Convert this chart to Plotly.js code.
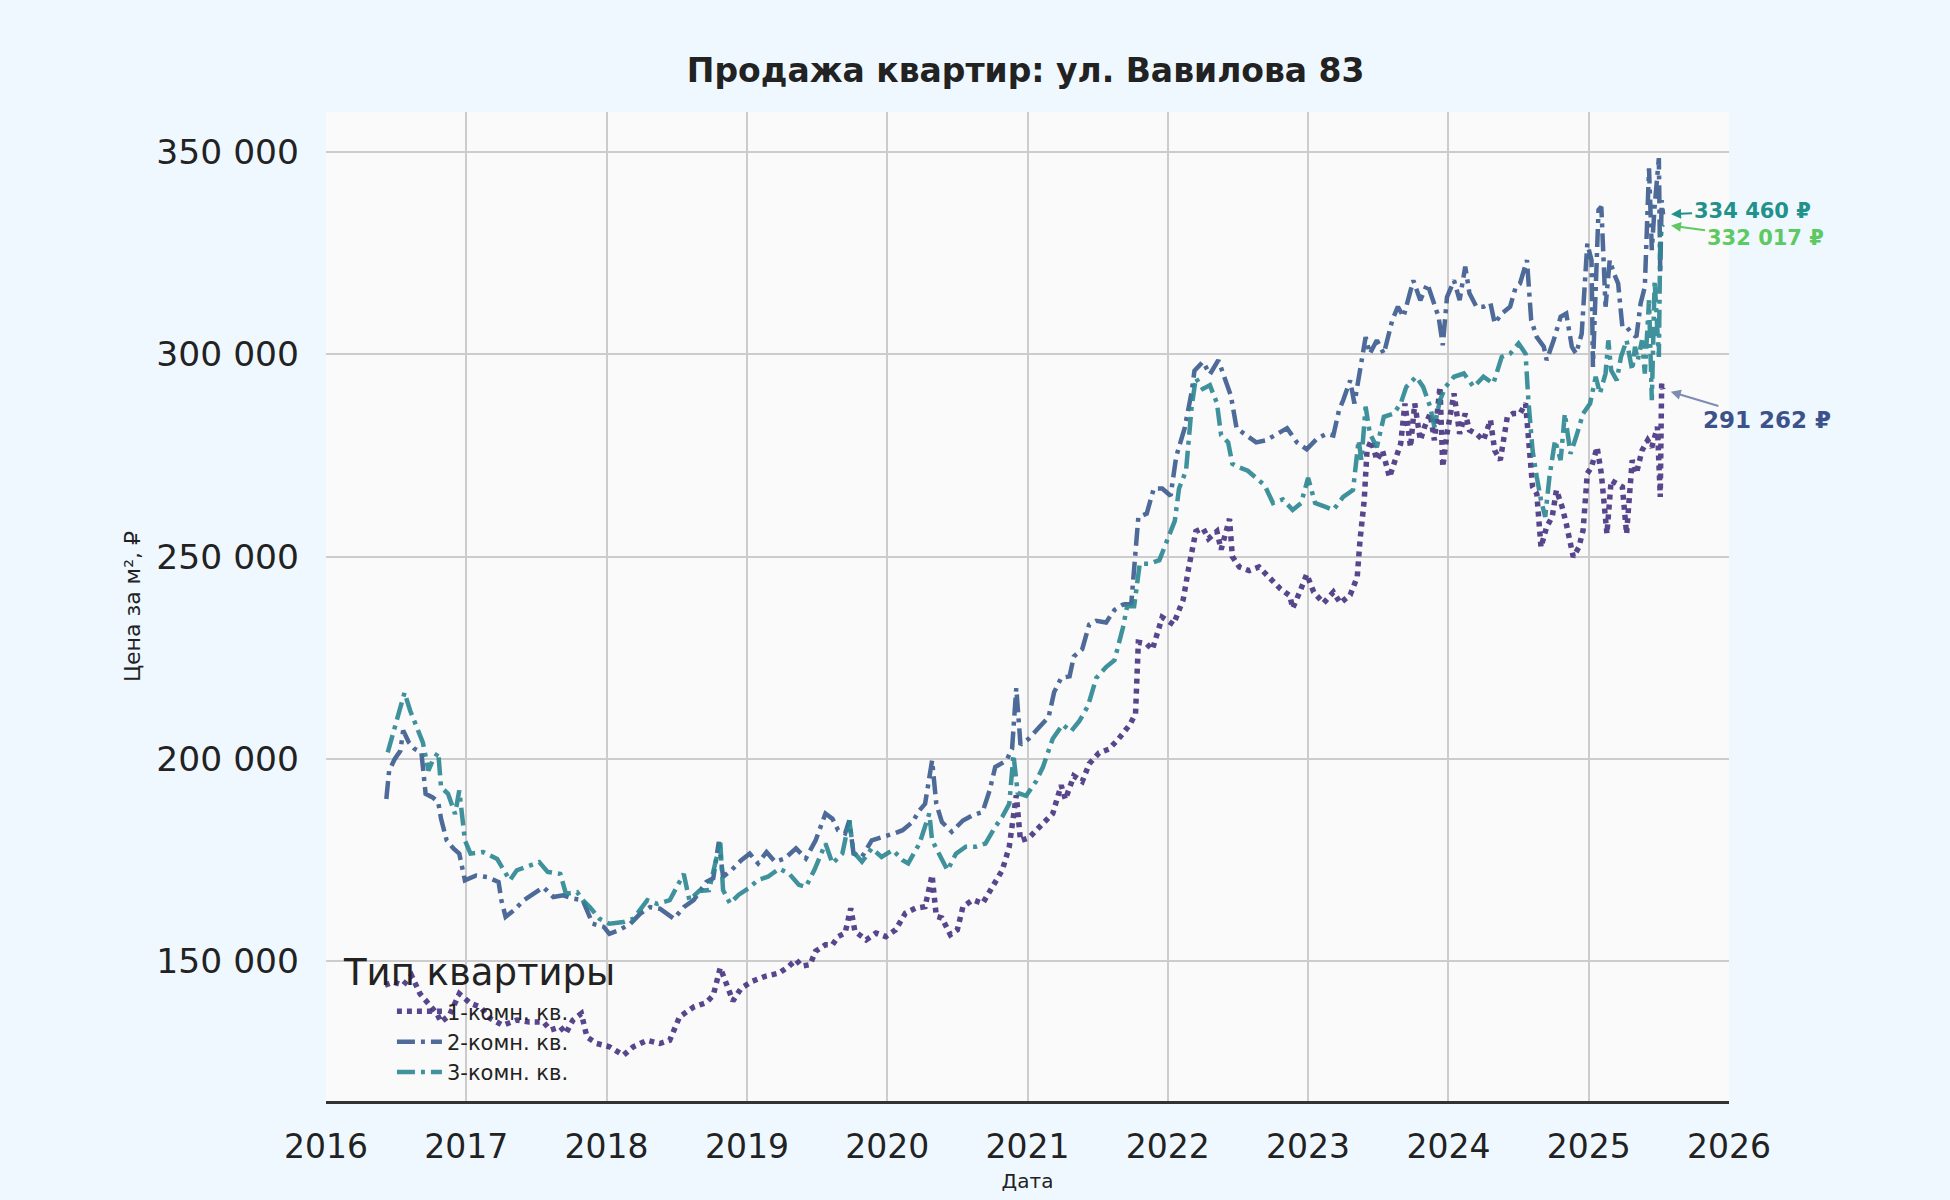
<!DOCTYPE html>
<html>
<head>
<meta charset="utf-8">
<script src="https://cdn.plot.ly/plotly-3.0.1.min.js"></script>
<style>
  html, body { margin: 0; padding: 0; background: #f0f8ff; }
  #chart { width: 1950px; height: 1200px; }
</style>
</head>
<body>
<div id="chart"></div>
<script>
// Продажа квартир: ул. Вавилова 83 — цена за м² по типу квартиры
// x — дата в долях года, y — цена, ₽/м²

const seriesNames = ['1-комн. кв.', '2-комн. кв.', '3-комн. кв.'];

const years1 = [
  2016.42, 2016.48, 2016.55, 2016.61, 2016.67, 2016.73, 2016.79, 2016.82, 2016.88, 2016.95,
  2017.03, 2017.10, 2017.17, 2017.26, 2017.36, 2017.45, 2017.55, 2017.60, 2017.67, 2017.71,
  2017.76, 2017.82, 2017.86, 2017.93, 2018.02, 2018.12, 2018.19, 2018.29, 2018.38, 2018.45,
  2018.52, 2018.62, 2018.71, 2018.76, 2018.81, 2018.86, 2018.90, 2018.96, 2019.04, 2019.13,
  2019.23, 2019.30, 2019.35, 2019.39, 2019.45, 2019.49, 2019.56, 2019.61, 2019.65, 2019.70,
  2019.74, 2019.77, 2019.85, 2019.92, 2019.99, 2020.06, 2020.13, 2020.20, 2020.27, 2020.32,
  2020.35, 2020.39, 2020.45, 2020.50, 2020.54, 2020.61, 2020.68, 2020.75, 2020.82, 2020.87,
  2020.92, 2020.95, 2021.01, 2021.08, 2021.14, 2021.18, 2021.24, 2021.27, 2021.33, 2021.39,
  2021.44, 2021.51, 2021.58, 2021.65, 2021.73, 2021.77, 2021.79, 2021.85, 2021.89, 2021.96,
  2022.04, 2022.11, 2022.15, 2022.20, 2022.25, 2022.29, 2022.35, 2022.38, 2022.44, 2022.46,
  2022.51, 2022.58, 2022.65, 2022.73, 2022.80, 2022.87, 2022.89, 2022.94, 2022.99, 2023.04,
  2023.11, 2023.18, 2023.23, 2023.30, 2023.35, 2023.37, 2023.40, 2023.42, 2023.45, 2023.49,
  2023.53, 2023.58, 2023.62, 2023.66, 2023.69, 2023.73, 2023.76, 2023.80, 2023.83, 2023.87,
  2023.90, 2023.94, 2023.96, 2023.99, 2024.04, 2024.08, 2024.12, 2024.15, 2024.20, 2024.25,
  2024.30, 2024.33, 2024.37, 2024.42, 2024.46, 2024.51, 2024.55, 2024.57, 2024.60, 2024.63,
  2024.66, 2024.70, 2024.74, 2024.77, 2024.81, 2024.84, 2024.87, 2024.89, 2024.93, 2024.96,
  2024.99, 2025.02, 2025.06, 2025.09, 2025.13, 2025.16, 2025.20, 2025.24, 2025.27, 2025.31,
  2025.34, 2025.38, 2025.42, 2025.45, 2025.49, 2025.51, 2025.52, 2025.53
];
const price1 = [
  144100, 144900, 144100, 146500, 142000, 139600, 137100, 135000, 136700, 142000,
  139600, 138700, 135900, 134200, 135500, 135000, 135000, 133000, 133800, 132200,
  135500, 137100, 131300, 129700, 128900, 126800, 128900, 130500, 129700, 130500,
  136300, 138700, 139800, 141600, 148400, 143900, 140200, 143400, 145100, 146300,
  147100, 148800, 150400, 148800, 149200, 152500, 154100, 154100, 156100, 157000,
  163100, 157400, 155300, 157000, 156100, 157800, 161900, 163100, 163500, 171300,
  161100, 160700, 156600, 157800, 163500, 165200, 164300, 168400, 172500, 178300,
  191000, 179800, 180500, 183000, 185000, 186500, 193500, 190000, 195800, 194400,
  198800, 201500, 202400, 205000, 208500, 211200, 228800, 228400, 227000, 235000,
  233200, 239400, 247400, 256200, 257000, 254400, 256200, 251700, 259300, 250000,
  247400, 246500, 247400, 244700, 242100, 240300, 237200, 241200, 245600, 241200,
  238500, 241200, 238500, 240500, 244900, 254000, 263900, 276200, 278700, 273800,
  276200, 269600, 273800, 277900, 287800, 277000, 287800, 278700, 282000, 285300,
  278700, 291900, 272100, 280300, 290300, 280300, 285300, 281200, 280300, 278700,
  283700, 276200, 273800, 284500, 285300, 285300, 287800, 278700, 267200, 265500,
  252300, 257300, 259800, 266400, 262300, 258100, 254000, 249900, 252300, 256500,
  270500, 272100, 277000, 270500, 255600, 268800, 268000, 267200, 255600, 273800,
  270500, 276200, 278700, 277000, 282000, 264700, 292700, 291262
];

const years2 = [
  2016.43, 2016.45, 2016.49, 2016.53, 2016.55, 2016.59, 2016.63, 2016.68, 2016.71, 2016.76,
  2016.80, 2016.82, 2016.86, 2016.91, 2016.95, 2016.99, 2017.07, 2017.15, 2017.23, 2017.25,
  2017.28, 2017.34, 2017.41, 2017.48, 2017.55, 2017.62, 2017.69, 2017.76, 2017.83, 2017.90,
  2017.98, 2018.02, 2018.09, 2018.17, 2018.24, 2018.31, 2018.38, 2018.48, 2018.55, 2018.62,
  2018.66, 2018.71, 2018.76, 2018.80, 2018.83, 2018.89, 2018.96, 2019.02, 2019.08, 2019.14,
  2019.20, 2019.27, 2019.35, 2019.42, 2019.49, 2019.56, 2019.61, 2019.65, 2019.70, 2019.73,
  2019.76, 2019.82, 2019.89, 2019.98, 2020.05, 2020.11, 2020.18, 2020.23, 2020.27, 2020.32,
  2020.35, 2020.39, 2020.46, 2020.54, 2020.61, 2020.68, 2020.73, 2020.77, 2020.85, 2020.89,
  2020.92, 2020.95, 2021.01, 2021.08, 2021.15, 2021.19, 2021.24, 2021.30, 2021.33, 2021.39,
  2021.44, 2021.49, 2021.56, 2021.62, 2021.68, 2021.74, 2021.76, 2021.79, 2021.85, 2021.90,
  2021.96, 2022.02, 2022.06, 2022.12, 2022.17, 2022.19, 2022.25, 2022.30, 2022.36, 2022.42,
  2022.45, 2022.49, 2022.56, 2022.63, 2022.70, 2022.77, 2022.85, 2022.92, 2022.99, 2023.06,
  2023.13, 2023.18, 2023.22, 2023.25, 2023.30, 2023.33, 2023.37, 2023.41, 2023.44, 2023.49,
  2023.54, 2023.60, 2023.64, 2023.68, 2023.75, 2023.80, 2023.85, 2023.89, 2023.93, 2023.96,
  2023.99, 2024.04, 2024.08, 2024.12, 2024.15, 2024.20, 2024.25, 2024.30, 2024.33, 2024.38,
  2024.44, 2024.48, 2024.51, 2024.56, 2024.58, 2024.59, 2024.63, 2024.68, 2024.70, 2024.75,
  2024.80, 2024.84, 2024.88, 2024.91, 2024.95, 2024.99, 2025.02, 2025.03, 2025.07, 2025.09,
  2025.12, 2025.15, 2025.18, 2025.21, 2025.24, 2025.27, 2025.31, 2025.34, 2025.37, 2025.40,
  2025.43, 2025.45, 2025.47, 2025.50, 2025.51, 2025.52, 2025.53
];
const price2 = [
  190100, 197100, 200000, 202000, 207000, 204100, 202500, 201600, 191400, 190500,
  189300, 185200, 179900, 177800, 176600, 170000, 171200, 170800, 169600, 165100,
  161000, 162600, 165100, 166700, 168300, 165900, 166300, 165500, 165100, 159300,
  158500, 156800, 157700, 159300, 161800, 163400, 163000, 160500, 163400, 165100,
  167000, 169600, 170500, 179500, 170900, 172500, 175000, 176600, 174200, 177000,
  174600, 175400, 177900, 175400, 179900, 186500, 185200, 182400, 181600, 184800,
  176600, 175800, 179900, 180700, 181600, 182400, 184400, 187300, 188900, 199600,
  188900, 184400, 182000, 184800, 186100, 186900, 192200, 198000, 199600, 202500,
  217500, 203500, 205000, 207700, 210300, 216500, 220000, 220400, 225300, 227100,
  233200, 234100, 233700, 236800, 238100, 238500, 246500, 259700, 260600, 266800,
  266800, 265000, 274700, 281700, 290600, 295900, 298100, 295000, 298500, 292300,
  289700, 281700, 280000, 278200, 278700, 280000, 281700, 278200, 276500, 279000,
  280300, 279900, 286100, 288600, 293500, 287800, 296000, 304200, 300100, 303400,
  300100, 308400, 311700, 309200, 318200, 313300, 317400, 313300, 309200, 302200,
  314100, 318200, 313300, 321600, 315000, 311700, 311700, 312500, 307600, 310000,
  311700, 316600, 317400, 323200, 314100, 308400, 304200, 301800, 298500, 303400,
  309200, 310000, 301800, 300100, 305000, 327300, 323200, 296800, 335600, 336400,
  311700, 323200, 319900, 317400, 306700, 306700, 305000, 304200, 312500, 316600,
  345900, 325700, 336400, 348400, 319900, 338000, 334460
];

const years3 = [
  2016.44, 2016.49, 2016.56, 2016.60, 2016.66, 2016.69, 2016.73, 2016.76, 2016.80, 2016.82,
  2016.87, 2016.92, 2016.95, 2016.99, 2017.03, 2017.12, 2017.22, 2017.31, 2017.36, 2017.45,
  2017.52, 2017.58, 2017.67, 2017.71, 2017.79, 2017.83, 2017.88, 2017.95, 2018.02, 2018.12,
  2018.19, 2018.29, 2018.36, 2018.45, 2018.55, 2018.59, 2018.66, 2018.73, 2018.81, 2018.83,
  2018.88, 2018.94, 2019.01, 2019.08, 2019.15, 2019.23, 2019.30, 2019.37, 2019.42, 2019.48,
  2019.56, 2019.61, 2019.68, 2019.73, 2019.76, 2019.82, 2019.89, 2019.96, 2020.04, 2020.11,
  2020.15, 2020.23, 2020.30, 2020.32, 2020.37, 2020.43, 2020.49, 2020.56, 2020.63, 2020.70,
  2020.77, 2020.82, 2020.87, 2020.90, 2020.93, 2020.99, 2021.06, 2021.11, 2021.18, 2021.25,
  2021.31, 2021.37, 2021.43, 2021.49, 2021.56, 2021.62, 2021.68, 2021.71, 2021.76, 2021.80,
  2021.87, 2021.94, 2022.01, 2022.05, 2022.08, 2022.13, 2022.17, 2022.20, 2022.25, 2022.30,
  2022.35, 2022.38, 2022.43, 2022.46, 2022.51, 2022.57, 2022.63, 2022.69, 2022.75, 2022.82,
  2022.89, 2022.95, 2023.00, 2023.05, 2023.12, 2023.18, 2023.25, 2023.32, 2023.36, 2023.38,
  2023.41, 2023.44, 2023.49, 2023.54, 2023.61, 2023.66, 2023.70, 2023.77, 2023.82, 2023.87,
  2023.90, 2023.94, 2023.98, 2024.04, 2024.11, 2024.18, 2024.25, 2024.32, 2024.38, 2024.44,
  2024.50, 2024.55, 2024.57, 2024.60, 2024.63, 2024.66, 2024.69, 2024.72, 2024.76, 2024.80,
  2024.83, 2024.87, 2024.91, 2024.96, 2025.01, 2025.05, 2025.08, 2025.12, 2025.14, 2025.16,
  2025.20, 2025.23, 2025.27, 2025.31, 2025.33, 2025.35, 2025.38, 2025.40, 2025.43, 2025.45,
  2025.47, 2025.50, 2025.51, 2025.52, 2025.53
];
const price3 = [
  201600, 207800, 216400, 211900, 206600, 204100, 197100, 199600, 201600, 193000,
  191400, 186400, 192200, 179900, 176600, 177000, 175300, 170000, 172500, 173700,
  174500, 172100, 171600, 166700, 167100, 165100, 163400, 160500, 159300, 159700,
  160500, 165100, 164200, 165100, 171600, 165100, 167400, 167600, 179500, 167600,
  164300, 166400, 168000, 170100, 170900, 172900, 171700, 168900, 168400, 172500,
  179100, 174200, 176600, 184800, 177000, 174600, 177900, 175800, 177500, 175000,
  174200, 179100, 186500, 179900, 176600, 172500, 176600, 178300, 178300, 179100,
  183200, 185700, 188900, 201000, 191600, 190900, 194400, 198000, 205000, 208500,
  206800, 209400, 213000, 220000, 222700, 224400, 232400, 237700, 237700, 248200,
  248200, 249100, 255300, 258800, 266800, 271200, 287000, 294100, 291400, 292300,
  287900, 280000, 278200, 272900, 272000, 271200, 269400, 267600, 263200, 264100,
  261500, 263200, 269400, 263200, 262300, 261500, 264700, 266400, 278700, 273800,
  287000, 280400, 277000, 284500, 285300, 287800, 291900, 294400, 291900, 287000,
  282000, 288600, 291900, 294400, 295200, 291900, 294400, 292700, 299300, 300100,
  302600, 300100, 288600, 276200, 269600, 263900, 259800, 269600, 278700, 273800,
  285300, 275400, 279500, 285300, 287800, 294400, 290300, 295200, 303400, 296000,
  293500, 299300, 303400, 296000, 301800, 298500, 303400, 295200, 313300, 288600,
  318200, 299300, 328200, 331500, 332017
];

const yTickVals = [150000, 200000, 250000, 300000, 350000];
const xTickVals = [2016, 2017, 2018, 2019, 2020, 2021, 2022, 2023, 2024, 2025, 2026];

const lineColors = ['#46337f', '#3b5b8e', '#2b8792'];
const labelColors = ['#3b528b', '#21918c', '#5ec962'];

const FONT = 'DejaVu Sans, sans-serif';
const fmt = v => Math.round(v).toString().replace(/\B(?=(\d{3})+(?!\d))/g, ' ') + ' ₽';

const xs = [years1, years2, years3];
const ys = [price1, price2, price3];
const dashes = ['5px,5px', '18px,6px,4px,6px', '18px,6px,4px,6px'];
const widths = [5.5, 4.5, 4.5];

const traces = seriesNames.map((name, i) => ({
  type: 'scatter', mode: 'lines', name: name,
  x: xs[i], y: ys[i],
  line: { color: lineColors[i], width: widths[i], dash: dashes[i] },
  opacity: 0.9
}));

// подписи последних значений
const lastShift = [[104, 31], [89, -4], [102, 14]];
const lastSize = [23, 21, 21];
const lastLabels = seriesNames.map((name, i) => {
  const n = xs[i].length - 1;
  return {
    x: xs[i][n], y: ys[i][n], xref: 'x', yref: 'y',
    text: '<b>' + fmt(ys[i][n]) + '</b>',
    font: { family: FONT, size: lastSize[i], color: labelColors[i] },
    showarrow: true, arrowhead: 2, arrowsize: 1, arrowwidth: 2,
    arrowcolor: i === 0 ? 'rgba(59,82,139,0.65)' : labelColors[i],
    ax: lastShift[i][0], ay: lastShift[i][1], standoff: 8
  };
});

const legendTitle = {
  text: 'Тип квартиры', xref: 'paper', yref: 'paper',
  x: 0.011, y: 0.130, xanchor: 'left', yanchor: 'middle',
  showarrow: false, font: { family: FONT, size: 37, color: '#222' }
};

const layout = {
  width: 1950, height: 1200,
  paper_bgcolor: '#f0f8ff', plot_bgcolor: '#fafafa',
  separators: ', ',
  margin: { t: 112, r: 221, b: 99, l: 326 },
  title: {
    text: '<b>Продажа квартир: ул. Вавилова 83</b>',
    x: 0.526, xanchor: 'center', y: 0.941, yanchor: 'middle',
    font: { family: FONT, size: 33, color: '#222' }
  },
  xaxis: {
    range: [2016, 2026], tickvals: xTickVals, tickformat: 'd',
    showgrid: true, gridcolor: '#cccccc', gridwidth: 2,
    zeroline: false, showline: true, linecolor: '#333', linewidth: 3,
    ticks: '', ticklabelstandoff: 14,
    tickfont: { family: FONT, size: 33, color: '#222' },
    title: { text: 'Дата', font: { family: FONT, size: 20, color: '#222' }, standoff: 10 }
  },
  yaxis: {
    range: [115500, 359800], tickvals: yTickVals, tickformat: ',d',
    showgrid: true, gridcolor: '#cccccc', gridwidth: 2,
    zeroline: false, showline: false,
    ticks: '', ticklabelstandoff: 26,
    tickfont: { family: FONT, size: 34.5, color: '#222' },
    title: { text: 'Цена за м², ₽', font: { family: FONT, size: 22, color: '#222' }, standoff: 9 }
  },
  showlegend: true,
  legend: {
    x: 0.047, y: 0.111, xanchor: 'left', yanchor: 'top',
    bgcolor: 'rgba(0,0,0,0)', itemwidth: 45,
    font: { family: FONT, size: 21, color: '#222' }
  },
  annotations: [legendTitle].concat(lastLabels)
};

Plotly.newPlot('chart', traces, layout, { displayModeBar: false, responsive: false });
</script>
</body>
</html>
